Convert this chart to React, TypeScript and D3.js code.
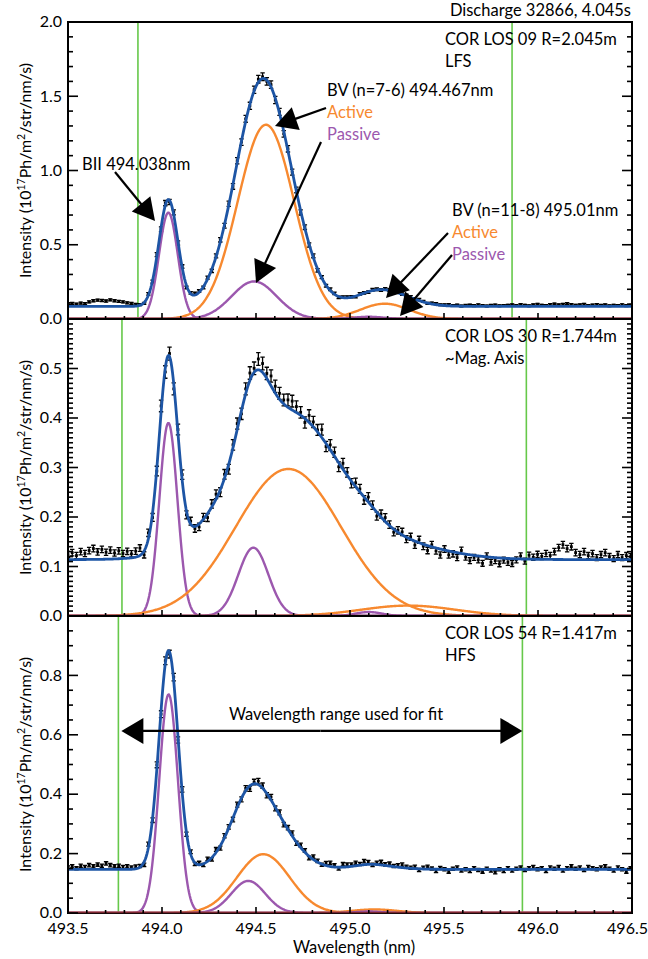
import * as d3 from "d3";
import { useEffect, useRef } from "react";

const width = 648;
const height = 959;
const font = "Lato, 'Noto Sans', sans-serif";

// wavelength axis (nm)
const xDomain = [493.5, 496.5];
const xMajorTicks = [493.5, 494.0, 494.5, 495.0, 495.5, 496.0, 496.5];
const xMinorStep = 0.1;

// spectrometer pixel grid
const pixelStart = 493.5;
const pixelStep = 0.0225;

// one entry per panel (top to bottom)
const panelTitles = ["COR LOS 09 R=2.045m", "COR LOS 30 R=1.744m", "COR LOS 54 R=1.417m"];
const panelSubtitles = ["LFS", "~Mag. Axis", "HFS"];
const yMaxes = [2.0, 0.6, 1.0];
const yMajorSteps = [0.5, 0.1, 0.2];
const yMinorSteps = [0.1, 0.01, 0.05];
const baselines = [0.085, 0.114, 0.147];
const fitLimits = [
  [493.872, 495.862],
  [493.787, 495.938],
  [493.768, 495.917],
];
const errScales = [0.02, 0.018, 0.014];

// fitted lines [centre nm, amplitude, sigma nm]
// order: BII 494.038, BV(7-6) active, BV(7-6) passive, BV(11-8) active, BV(11-8) passive
const lineKinds = ["passive", "active", "passive", "active", "passive"];
const los09Lines = [
  [494.034, 0.716, 0.05],
  [494.553, 1.308, 0.15],
  [494.49, 0.253, 0.12],
  [495.185, 0.103, 0.13],
  [495.1, 0.015, 0.08],
];
const los30Lines = [
  [494.034, 0.39, 0.048],
  [494.672, 0.297, 0.28],
  [494.486, 0.138, 0.08],
  [495.31, 0.021, 0.25],
  [495.1, 0.008, 0.07],
];
const los54Lines = [
  [494.035, 0.736, 0.05],
  [494.539, 0.198, 0.14],
  [494.459, 0.108, 0.09],
  [495.13, 0.012, 0.12],
  [495.1, 0.005, 0.07],
];

// measured minus fit, per pixel, in units of 1e-3
const los09Resid = [
  18, 20, 15, 22, 18, 30, 38, 42, 40, 36, 44, 38, 34, 30, 24, 20, 12,
  4, -6, 10, -8, 12, -10, 15, -12, 18, -10, 8, -14, 6, 12,
  8, -5, 10, -12, 6, 14, -8, 10, -15, 12, -6, 18, -10, 8,
  20, 12, -8, 15, -12, 10, -18, 14, -6,
  10, -12, 8, -6, 12, -10, 6, -4, 8, 5, -6, 4, 6,
  3, -4, 6, 2, -3, 5, 4, -2, 6, 3, -4, 5, 2, 4,
  6, 3, 8, 4, -2, 6, 8, 3, 5, 9, 4, 7, 2, 6, 8, 5, 10, 6, 3, 7, 9, 4, 6, 8,
  10, 6, 12, 8, 4, 10, 14, 8, 6, 12, 16, 10, 14, 18, 12, 8, 10, 14, 6, 9, 12, 7, 10, 4, 8, 6, 11, 5, 8,
];
const los30Resid = [
  10, 14, 8, 16, 12, 18, 22, 15, 20, 14, 18, 12, 16, 10, 14, 8, 12,
  15, -8, 12, -10, -6, 14, -8, 6, -10, 8, 12, -8, 6, -4,
  -6, 4, -8, 6, 10, -5, 8, -10, 6, 12, -6, 10, 15, 8,
  22, 18, 10, 20, 14, 12, 8, 15, 18,
  12, 6, -8, 14, 10, 4, 16, -6, 10, 8, -8, 12, 6,
  -4, 8, 6, -6, 10, 4, -8, 6, 8, 2, -6, 4, 6, -4,
  5, -8, 6, -4, -10, 4, -6, -12, 2, -8, -4, -10, 6, -6, -12, -4, -8, -14, 2, -10, -6, -12, -4, -8,
  -10, -2, 6, -4, 8, 4, 10, 6, 12, 8, 16, 24, 30, 22, 26, 14, 10, 16, 8, 12, 4, 10, 14, 6, 2, 10, 4, 8, 6,
];
const los54Resid = [
  6, 10, 4, 12, 8, 14, 10, 16, 12, 20, 14, 10, 12, 8, 10, 6, 8,
  4, -10, 12, -8, 15, -12, 10, -8, 14, -12, 10, -6, 8, -4,
  6, -4, 8, -6, 10, -8, 6, 4, -6, 10, -4, 8, -10, 6,
  12, 8, -6, 10, -4, 8, -8, 6, 10,
  -4, 8, 6, -6, 10, 4, -2, 8, 12, 6, -4, 10, 8,
  6, 10, 4, 12, 8, -2, 6, 10, 4, 8, 2, 6, 10, 4,
  2, 6, -4, 4, 8, 2, -6, 4, 0, -8, 2, 6, -4, 0, -6, 4, -2, -8, 2, -4, -10, 0, -6, 4,
  -4, 2, 6, -2, 4, 8, 0, 4, -6, 6, 2, 8, -4, 4, 10, 2, 6, -2, 8, 4, 0, 6, 10, 2, -4, 6, 0, -8, 4,
];

const panelLines = [los09Lines, los30Lines, los54Lines];
const panelResid = [los09Resid, los30Resid, los54Resid];

const colors = {
  fit: "#1d55a5",
  active: "#f7892f",
  passive: "#9c58ae",
  range: "#66c84a",
  zero: "#7a2630",
};

// layout
const plotLeft = 68;
const plotRight = 632;
const panelTops = [22, 319, 616];
const panelHeight = 297;

const gauss = (l: number, [c, a, s]: number[]) => a * Math.exp(-0.5 * ((l - c) / s) ** 2);

function drawArrow(g: any, x1: number, y1: number, x2: number, y2: number, head = 22, half = 12) {
  const len = Math.hypot(x2 - x1, y2 - y1);
  const ux = (x2 - x1) / len;
  const uy = (y2 - y1) / len;
  const bx = x2 - ux * head;
  const by = y2 - uy * head;
  g.append("line")
    .attr("x1", x1).attr("y1", y1).attr("x2", bx + ux * 2).attr("y2", by + uy * 2)
    .attr("stroke", "#000").attr("stroke-width", 2.2);
  g.append("path")
    .attr("d", `M${x2},${y2}L${bx - uy * half},${by + ux * half}L${bx + uy * half},${by - ux * half}Z`)
    .attr("fill", "#000");
}

const SpectraFigure = () => {
  const svgRef = useRef<SVGSVGElement>(null);

  useEffect(() => {
    if (!svgRef.current) return;
    const svg = d3.select(svgRef.current);
    svg.selectAll("*").remove();

    const x = d3.scaleLinear().domain(xDomain).range([plotLeft, plotRight]);
    const fineGrid = d3.range(xDomain[0], xDomain[1] + 1e-9, 0.004);

    panelTops.forEach((top, p) => {
      const y = d3.scaleLinear().domain([0, yMaxes[p]]).range([top + panelHeight, top]);
      const lines = panelLines[p];
      const model = (l: number) => baselines[p] + d3.sum(lines, (ln) => gauss(l, ln));

      const g = svg.append("g");
      const clipId = `clip-${p}`;
      g.append("clipPath").attr("id", clipId)
        .append("rect").attr("x", plotLeft).attr("y", top).attr("width", plotRight - plotLeft).attr("height", panelHeight);
      const inner = g.append("g").attr("clip-path", `url(#${clipId})`);

      // fit range markers
      fitLimits[p].forEach((l) => {
        inner.append("line")
          .attr("x1", x(l)).attr("x2", x(l)).attr("y1", top).attr("y2", top + panelHeight)
          .attr("stroke", colors.range).attr("stroke-width", 1.6);
      });

      // measured points with error bars
      const points = panelResid[p].map((r, i) => {
        const l = pixelStart + i * pixelStep;
        const v = model(l) + r / 1000;
        return { l, v, e: errScales[p] * Math.sqrt(v) };
      });
      const gData = inner.append("g").attr("stroke", "#000").attr("stroke-width", 1.3).attr("fill", "none");
      points.forEach((d) => {
        const px = x(d.l);
        const y1 = y(d.v - d.e);
        const y2 = y(d.v + d.e);
        gData.append("path").attr("d", `M${px},${y1}V${y2}M${px - 2.2},${y1}H${px + 2.2}M${px - 2.2},${y2}H${px + 2.2}`);
      });
      inner.append("g").selectAll("rect").data(points).join("rect")
        .attr("x", (d) => x(d.l) - 1.4).attr("y", (d) => y(d.v) - 1.4)
        .attr("width", 2.8).attr("height", 2.8).attr("fill", "#000");

      // fitted components
      const line = d3.line<number>().x((l) => x(l));
      lines.forEach((ln, k) => {
        inner.append("path")
          .attr("d", line.y((l) => y(gauss(l, ln)))(fineGrid))
          .attr("fill", "none")
          .attr("stroke", lineKinds[k] === "active" ? colors.active : colors.passive)
          .attr("stroke-width", 2.4);
      });

      // total fit
      inner.append("path")
        .attr("d", line.y((l) => y(model(l)))(fineGrid))
        .attr("fill", "none").attr("stroke", colors.fit).attr("stroke-width", 2.8);

      // frame
      g.append("rect")
        .attr("x", plotLeft).attr("y", top).attr("width", plotRight - plotLeft).attr("height", panelHeight)
        .attr("fill", "none").attr("stroke", "#000").attr("stroke-width", 2);
      g.append("line")
        .attr("x1", plotLeft).attr("x2", plotRight).attr("y1", y(0) - 0.5).attr("y2", y(0) - 0.5)
        .attr("stroke", colors.zero).attr("stroke-width", 1.4);

      // y ticks, both sides, pointing in
      const gTicks = g.append("g").attr("stroke", "#000").attr("stroke-width", 1.6);
      const minor = d3.range(0, yMaxes[p] + 1e-9, yMinorSteps[p]);
      const major = d3.range(0, yMaxes[p] + 1e-9, yMajorSteps[p]);
      minor.forEach((v) => {
        const isMajor = major.some((m) => Math.abs(m - v) < 1e-6);
        const len = isMajor ? 10 : 5;
        gTicks.append("line").attr("x1", plotLeft).attr("x2", plotLeft + len).attr("y1", y(v)).attr("y2", y(v));
        gTicks.append("line").attr("x1", plotRight).attr("x2", plotRight - len).attr("y1", y(v)).attr("y2", y(v));
      });
      // x ticks along the bottom
      d3.range(xDomain[0], xDomain[1] + 1e-9, xMinorStep).forEach((l) => {
        const isMajor = xMajorTicks.some((m) => Math.abs(m - l) < 1e-6);
        gTicks.append("line")
          .attr("x1", x(l)).attr("x2", x(l))
          .attr("y1", top + panelHeight).attr("y2", top + panelHeight - (isMajor ? 6 : 3));
      });

      // y tick labels (top value only on first panel)
      const labelled = p === 0 ? major : major.filter((m) => m < yMaxes[p] - 1e-6);
      g.append("g").selectAll("text").data(labelled).join("text")
        .attr("x", plotLeft - 6).attr("y", (v) => y(v)).attr("dy", "0.33em")
        .attr("text-anchor", "end").attr("font-family", font).attr("font-size", 16)
        .text((v) => d3.format(".1f")(v));

      // y axis title
      const yt = g.append("text")
        .attr("transform", `translate(31,${top + panelHeight / 2}) rotate(-90)`)
        .attr("text-anchor", "middle").attr("font-family", font).attr("font-size", 16);
      yt.append("tspan").text("Intensity (10");
      yt.append("tspan").attr("dy", -6).attr("font-size", 10.5).text("17");
      yt.append("tspan").attr("dy", 6).text("Ph/m");
      yt.append("tspan").attr("dy", -6).attr("font-size", 10.5).text("2");
      yt.append("tspan").attr("dy", 6).text("/str/nm/s)");

      // panel labels
      g.append("text").attr("x", 445).attr("y", top + 23)
        .attr("font-family", font).attr("font-size", 16.5).text(panelTitles[p]);
      g.append("text").attr("x", 445).attr("y", top + 45)
        .attr("font-family", font).attr("font-size", 16.5).text(panelSubtitles[p]);
    });

    // x tick labels and title
    const bottom = panelTops[2] + panelHeight;
    svg.append("g").selectAll("text").data(xMajorTicks).join("text")
      .attr("x", (l, i) => (i === xMajorTicks.length - 1 ? 648 : x(l))).attr("y", bottom + 21)
      .attr("text-anchor", (l, i) => (i === xMajorTicks.length - 1 ? "end" : "middle"))
      .attr("font-family", font).attr("font-size", 16)
      .text((l) => d3.format(".1f")(l));
    svg.append("text").attr("x", 354).attr("y", bottom + 40)
      .attr("text-anchor", "middle").attr("font-family", font).attr("font-size", 16.5)
      .text("Wavelength (nm)");

    // header
    svg.append("text").attr("x", 631).attr("y", 16)
      .attr("text-anchor", "end").attr("font-family", font).attr("font-size", 16.5)
      .text("Discharge 32866, 4.045s");

    // line annotations
    const ann = svg.append("g").attr("font-family", font).attr("font-size", 16.5);
    ann.append("text").attr("x", 82).attr("y", 170).text("BII 494.038nm");
    ann.append("text").attr("x", 327).attr("y", 96).text("BV (n=7-6) 494.467nm");
    ann.append("text").attr("x", 327).attr("y", 118).attr("fill", colors.active).text("Active");
    ann.append("text").attr("x", 327).attr("y", 140).attr("fill", colors.passive).text("Passive");
    ann.append("text").attr("x", 452).attr("y", 216).text("BV (n=11-8) 495.01nm");
    ann.append("text").attr("x", 452).attr("y", 238).attr("fill", colors.active).text("Active");
    ann.append("text").attr("x", 452).attr("y", 260).attr("fill", colors.passive).text("Passive");

    drawArrow(ann, 115, 172, 155, 221);
    drawArrow(ann, 326, 108, 275, 126);
    drawArrow(ann, 321, 142, 256, 283);
    drawArrow(ann, 448, 233, 386, 298);
    drawArrow(ann, 452, 255, 400, 316);

    // fit range arrow on bottom panel
    const y3 = d3.scaleLinear().domain([0, yMaxes[2]]).range([panelTops[2] + panelHeight, panelTops[2]]);
    const ay = y3(0.613);
    const [l0, l1] = fitLimits[2];
    const mid = (x(l0) + x(l1)) / 2;
    drawArrow(ann, mid, ay, x(l0) + 3, ay, 22, 13);
    drawArrow(ann, mid, ay, x(l1), ay, 22, 13);
    ann.append("text").attr("x", 336).attr("y", ay - 11).attr("text-anchor", "middle")
      .text("Wavelength range used for fit");
  }, []);

  return (
    <svg
      ref={svgRef}
      width={width}
      height={height}
      style={{ position: "absolute", left: 0, top: 0, background: "#fff" }}
    />
  );
};

export default function App() {
  return <SpectraFigure />;
}
